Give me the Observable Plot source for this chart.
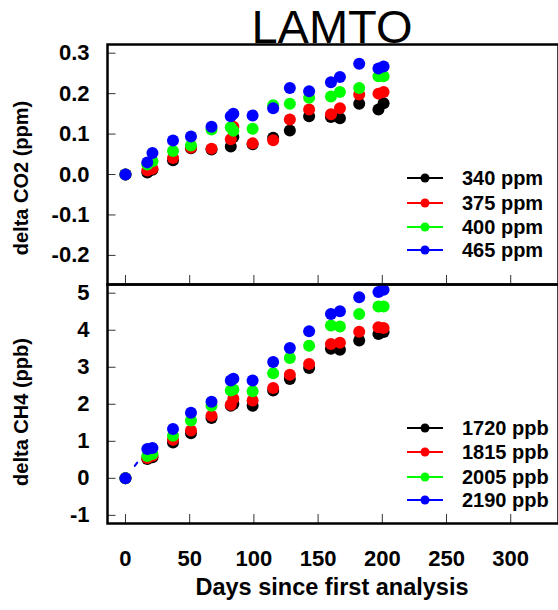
<!DOCTYPE html>
<html><head><meta charset="utf-8">
<script src="https://cdn.jsdelivr.net/npm/d3@7"></script>
<script src="https://cdn.jsdelivr.net/npm/@observablehq/plot@0.6"></script>
<style>
body{margin:0;background:#fff;}
#wrap{position:relative;width:558px;height:610px;overflow:hidden;font-family:"Liberation Sans",Arial,sans-serif;color:#000;}
#wrap svg.plot{position:absolute;left:0;top:0;}
.title{position:absolute;text-align:center;font-size:47px;line-height:52px;}
.ylab{position:absolute;font-size:20px;font-weight:bold;white-space:nowrap;transform:translate(-50%,-50%) rotate(-90deg);}
.xlab{position:absolute;font-size:23.5px;font-weight:bold;white-space:nowrap;transform:translate(-50%,-50%);}
.leg{position:absolute;left:405px;font-size:20px;font-weight:bold;}
.leg .row{position:absolute;left:0;height:24px;display:flex;align-items:center;white-space:nowrap;transform:translateY(-50%);}
.leg svg{margin-right:17px;}
</style></head><body><div id="wrap"></div>
<script>
// ---- data ----
const days = [0, 17, 21, 37, 51, 67, 82, 84, 99, 115, 128, 143, 160, 167, 182, 197, 201];
const co2Names = ["340 ppm", "375 ppm", "400 ppm", "465 ppm"];
const ch4Names = ["1720 ppb", "1815 ppb", "2005 ppb", "2190 ppb"];
const seriesColors = ["#000000", "#ff0000", "#00ff00", "#0000ff"];
const co2_340 = [0, 0.005, 0.012, 0.035, 0.065, 0.062, 0.069, 0.093, 0.075, 0.091, 0.109, 0.144, 0.142, 0.139, 0.175, 0.161, 0.176];
const co2_375 = [0, 0.010, 0.014, 0.041, 0.066, 0.064, 0.087, 0.118, 0.077, 0.085, 0.136, 0.161, 0.149, 0.164, 0.198, 0.200, 0.204];
const co2_400 = [0, 0.025, 0.033, 0.058, 0.072, 0.111, 0.117, 0.108, 0.113, 0.171, 0.175, 0.190, 0.193, 0.204, 0.214, 0.243, 0.243];
const co2_465 = [0, 0.030, 0.053, 0.084, 0.094, 0.118, 0.144, 0.150, 0.146, 0.164, 0.214, 0.206, 0.228, 0.241, 0.274, 0.262, 0.267];
const ch4_1720 = [0, 0.52, 0.57, 0.97, 1.22, 1.63, 1.96, 2.01, 1.96, 2.37, 2.68, 2.98, 3.50, 3.47, 3.72, 3.90, 3.95];
const ch4_1815 = [0, 0.55, 0.61, 1.04, 1.29, 1.69, 1.99, 2.15, 2.10, 2.44, 2.80, 3.09, 3.63, 3.66, 3.96, 4.08, 4.06];
const ch4_2005 = [0, 0.60, 0.66, 1.15, 1.56, 1.96, 2.37, 2.40, 2.35, 2.84, 3.25, 3.58, 4.13, 4.10, 4.44, 4.64, 4.64];
const ch4_2190 = [0, 0.79, 0.82, 1.33, 1.77, 2.07, 2.64, 2.69, 2.64, 3.14, 3.52, 3.97, 4.44, 4.51, 4.89, 5.03, 5.09];
const co2Ticks = [-0.2, -0.1, 0.0, 0.1, 0.2, 0.3];
const ch4Ticks = [-1, 0, 1, 2, 3, 4, 5];
const xTicks = [0, 50, 100, 150, 200, 250, 300];
const title = "LAMTO";
const co2Label = "delta CO2 (ppm)";
const ch4Label = "delta CH4 (ppb)";
const xLabel = "Days since first analysis";

// ---- build tables ----
function rows(names, arrays) {
  const out = [];
  names.forEach((n, k) => arrays[k].forEach((v, i) => out.push({day: days[i], value: v, series: n, k})));
  return out;
}
const co2Rows = rows(co2Names, [co2_340, co2_375, co2_400, co2_465]);
const ch4Rows = rows(ch4Names, [ch4_1720, ch4_1815, ch4_2005, ch4_2190]);
const fitRows = [0, 1].map(i => ({day: days[i], value: ch4_2190[i]}));

const W = 558, H = 610;
const xDomain = [-14, 337.2];
const topY = [-0.272, 0.3215];
const botY = [-1.22, 5.235];
const font = {fontSize: "22px", fontWeight: "bold", fontFamily: "'Liberation Sans', Arial, sans-serif", background: "transparent", overflow: "visible"};

function panel(rowsData, yDomain, mTop, mBottom, ticks, fmt, showX, extra) {
  const pxPerY = (H - mTop - mBottom) / (yDomain[1] - yDomain[0]);
  const pxPerX = (W - 107) / (xDomain[1] - xDomain[0]);
  return Plot.plot({
    width: W, height: H, marginTop: mTop, marginBottom: mBottom, marginLeft: 107, marginRight: 0,
    style: font,
    x: {domain: xDomain, ticks: xTicks, tickSize: 0, tickPadding: 27, label: null, axis: showX ? "bottom" : null, tickFormat: d => String(d)},
    y: {domain: yDomain, ticks: ticks, tickSize: 0, tickPadding: 18, label: null, tickFormat: fmt},
    color: {domain: co2Names.concat(ch4Names), range: seriesColors.concat(seriesColors)},
    marks: [
      Plot.ruleY(ticks, {x1: xDomain[0], x2: xDomain[0] + 8.5 / pxPerX, stroke: "#333", strokeWidth: 1}),
      Plot.ruleX(xTicks, {y1: yDomain[0], y2: yDomain[0] + 9 / pxPerY, stroke: "#333", strokeWidth: 1}),
      ...extra,
      Plot.dot(rowsData, {x: "day", y: "value", fill: "series", r: 6, stroke: null}),
      Plot.frame({stroke: "#000", strokeWidth: 2.5})
    ]
  });
}

const wrap = document.getElementById("wrap");
const p1 = panel(co2Rows, topY, 44, H - 284, co2Ticks, d => d.toFixed(1), false, []);
const p2 = panel(ch4Rows, botY, 284, H - 523, ch4Ticks, d => String(d), true, [
  Plot.line(fitRows, {x: "day", y: "value", stroke: "#0000ff", strokeWidth: 2, strokeDasharray: "4 11.6"})
]);
p1.classList.add("plot"); p2.classList.add("plot");
wrap.appendChild(p1);
wrap.appendChild(p2);

function addDiv(cls, text, css) {
  const d = document.createElement("div");
  d.className = cls; d.textContent = text;
  Object.assign(d.style, css);
  wrap.appendChild(d);
  return d;
}
addDiv("title", title, {left: "200px", width: "264px", top: "1px"});
addDiv("ylab", co2Label, {left: "21px", top: "178px"});
addDiv("ylab", ch4Label, {left: "21px", top: "412px"});
addDiv("xlab", xLabel, {left: "332px", top: "587px"});

function legend(names, ys) {
  const g = document.createElement("div");
  g.className = "leg";
  names.forEach((n, i) => {
    const r = document.createElement("div");
    r.className = "row";
    r.style.top = ys[i] + "px";
    const c = seriesColors[i];
    r.innerHTML = `<svg width="40" height="12"><line x1="2" x2="38" y1="6" y2="6" stroke="${c}" stroke-width="2"/><circle cx="20" cy="6" r="4.5" fill="${c}"/></svg><span>${n}</span>`;
    g.appendChild(r);
  });
  wrap.appendChild(g);
}
legend(co2Names, [178, 203, 227, 250]);
legend(ch4Names, [428, 452, 477, 500]);
</script>
</body></html>
